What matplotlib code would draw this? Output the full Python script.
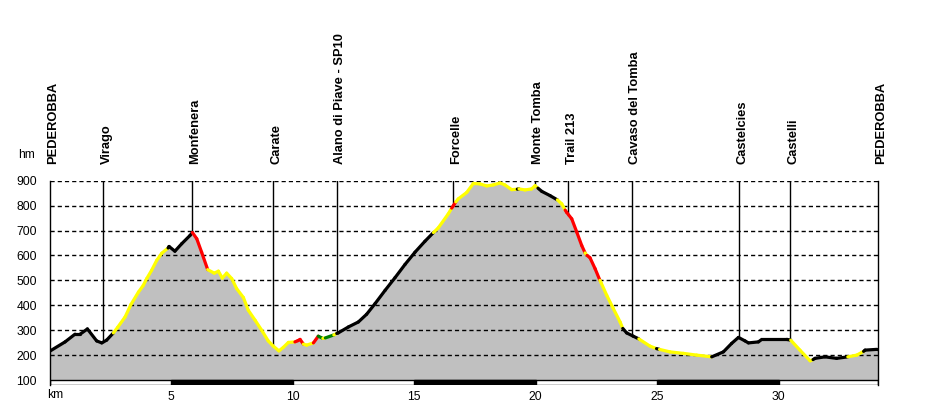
import numpy as np
import matplotlib
matplotlib.use("Agg")
import matplotlib.pyplot as plt
from matplotlib.collections import LineCollection
from matplotlib.patches import Rectangle
import matplotlib.transforms as mtransforms

plt.rcParams['font.family'] = ['Liberation Sans', 'DejaVu Sans']
plt.rcParams['lines.scale_dashes'] = False

# ---- data ----
dist_km = [0.00, 0.64, 1.05, 1.26, 1.56, 1.94, 2.15, 2.35, 2.63, 2.80, 3.11, 3.35, 3.66, 3.86,
           4.00, 4.20, 4.41, 4.62, 4.88, 4.92, 5.16, 5.44, 5.78, 5.88, 6.06, 6.26, 6.51, 6.78,
           6.95, 7.11, 7.29, 7.50, 7.70, 7.98, 8.18, 8.46, 8.73, 9.00, 9.21, 9.44, 9.62, 9.83,
           10.10, 10.22, 10.31, 10.45, 10.58, 10.86, 11.06, 11.25, 11.35, 11.70, 11.82, 11.88,
           12.30, 12.71, 13.05, 13.40, 13.81, 14.22, 14.63, 15.04, 15.45, 15.80, 16.00, 16.41,
           16.55, 16.62, 16.72, 16.82, 17.17, 17.44, 17.72, 17.99, 18.26, 18.54, 18.74, 19.02,
           19.25, 19.32, 19.57, 19.84, 19.98, 20.10, 20.26, 20.60, 20.90, 21.08, 21.22, 21.28,
           21.49, 21.70, 21.90, 22.04, 22.12, 22.24, 22.45, 22.65, 22.70, 22.93, 23.20, 23.48,
           23.59, 23.75, 24.02, 24.25, 24.71, 24.98, 25.10, 25.53, 26.08, 26.63, 27.25, 27.73,
           28.07, 28.35, 28.62, 28.76, 29.17, 29.31, 30.34, 30.50, 30.88, 31.30, 31.42, 31.50,
           31.91, 32.39, 32.85, 33.22, 33.50, 33.56, 34.04, 34.08]
elev_m = [215, 253, 284, 284, 305, 257, 249, 260, 289, 311, 353, 403, 453, 480,
          507, 540, 580, 609, 630, 636, 617, 647, 680, 692, 667, 613, 543, 529,
          537, 509, 529, 507, 467, 431, 380, 340, 300, 257, 236, 217, 231, 251,
          253, 258, 263, 244, 240, 249, 276, 267, 269, 281, 287, 289,
          313, 333, 364, 407, 460, 511, 564, 613, 657, 692, 711, 767,
          790, 800, 815, 827, 853, 889, 887, 879, 883, 891, 883, 864,
          866, 867, 863, 867, 880, 870, 857, 840, 823, 807, 782, 773,
          747, 693, 640, 610, 600, 591, 547, 500, 490, 440, 387, 333,
          307, 289, 276, 265, 236, 226, 223, 213, 207, 200, 193, 213,
          247, 271, 257, 249, 253, 263, 263, 260, 220, 177, 182, 187,
          193, 187, 193, 200, 215, 220, 223, 223]
# surface class runs (class, number of points starting a segment of that class)
surface_runs = [('k', 8), ('y', 10), ('k', 5), ('r', 3), ('y', 16), ('r', 3), ('y', 2),
                ('r', 1), ('g', 1), ('y', 1), ('g', 1), ('y', 1), ('k', 11), ('y', 3),
                ('r', 2), ('y', 10), ('k', 1), ('y', 4), ('k', 3), ('y', 2), ('r', 5),
                ('y', 1), ('r', 3), ('y', 5), ('k', 3), ('y', 2), ('k', 1), ('y', 4),
                ('k', 9), ('y', 3), ('k', 4), ('y', 2), ('k', 4)]

waypoints = ["PEDEROBBA", "Virago", "Monfenera", "Carate", "Alano di Piave - SP10",
             "Forcelle", "Monte Tomba", "Trail 213", "Cavaso del Tomba", "Castelcies",
             "Castelli", "PEDEROBBA"]
waypoint_km = [0.0, 2.21, 5.88, 9.21, 11.84, 16.62, 19.99, 21.35, 23.98, 28.39, 30.49, 34.08]

y_ticks = [100, 200, 300, 400, 500, 600, 700, 800, 900]
x_ticks = [5, 10, 15, 20, 25, 30]

surface_colors = {'k': '#000000', 'y': '#FFFF00', 'r': '#FF0000', 'g': '#008000'}

surface = []
for c, cnt in surface_runs:
    surface += [c] * cnt

# ---- figure ----
W, H = 927, 420
fig = plt.figure(figsize=(W / 100, H / 100), dpi=100)
ax_left, ax_right = 49.5, 877.7
ax_top, ax_bot = 180.7, 385.0
ax = fig.add_axes([ax_left / W, 1 - ax_bot / H, (ax_right - ax_left) / W, (ax_bot - ax_top) / H])

x = np.array(dist_km)
y = np.array(elev_m)
total = x[-1]

ax.set_xlim(0, total)
ax.set_ylim(80, 900)

# fill
ax.fill_between(x, y, 100, color='#C0C0C0', lw=0, zorder=1)

# grid lines
for yv in y_ticks[1:]:
    ax.plot([0, total], [yv, yv], color='black', lw=1, dashes=(3, 2.2), zorder=2)

# waypoint lines
for km in waypoint_km[1:-1]:
    ax.plot([km, km], [900, np.interp(km, x, y)], color='black', lw=1, zorder=2)

# profile
n = len(x)
segs = [[(x[i], y[i]), (x[i + 1], y[i + 1])] for i in range(n - 1)]
cols = [surface_colors[surface[i]] for i in range(n - 1)]
lc = LineCollection(segs, colors=cols, linewidths=2.3, capstyle='round', zorder=3)
ax.add_collection(lc)

# distance bar
ax.add_patch(Rectangle((0, 80), total, 20, facecolor='white', edgecolor='black', lw=1, zorder=4))
for k in range(5, int(total), 10):
    ax.add_patch(Rectangle((k, 80), min(5, total - k), 20, facecolor='black', edgecolor='black', lw=1, zorder=4))

for s in ['top', 'bottom']:
    ax.spines[s].set_visible(False)
for s in ['left', 'right']:
    ax.spines[s].set_linewidth(1)
    ax.spines[s].set_zorder(5)

ax.set_yticks(y_ticks)
ax.set_yticklabels([str(v) for v in y_ticks], fontsize=8.7)
ax.set_xticks(x_ticks)
ax.set_xticklabels([str(v) for v in x_ticks], fontsize=8.7)
ax.tick_params(axis='both', length=0)
ax.tick_params(axis='y', pad=9)
ax.tick_params(axis='x', pad=4)

ax.text(-0.1, -0.02, "km", transform=mtransforms.blended_transform_factory(ax.transData, ax.transAxes),
        ha='left', va='top', fontsize=8.7)
fig.text(18 / W, 1 - 155 / H, "hm", ha='left', va='center', fontsize=8.7)

# waypoint labels
trans = mtransforms.blended_transform_factory(ax.transData, fig.transFigure)
off = mtransforms.ScaledTranslation(3.2 / 100, 0, fig.dpi_scale_trans)
for name, km in zip(waypoints, waypoint_km):
    ax.text(km, 1 - 164 / H, name, rotation=90, ha='center', va='bottom',
            fontsize=9.3, fontweight='bold', transform=trans + off, clip_on=False)

fig.savefig("out.png", dpi=100)
